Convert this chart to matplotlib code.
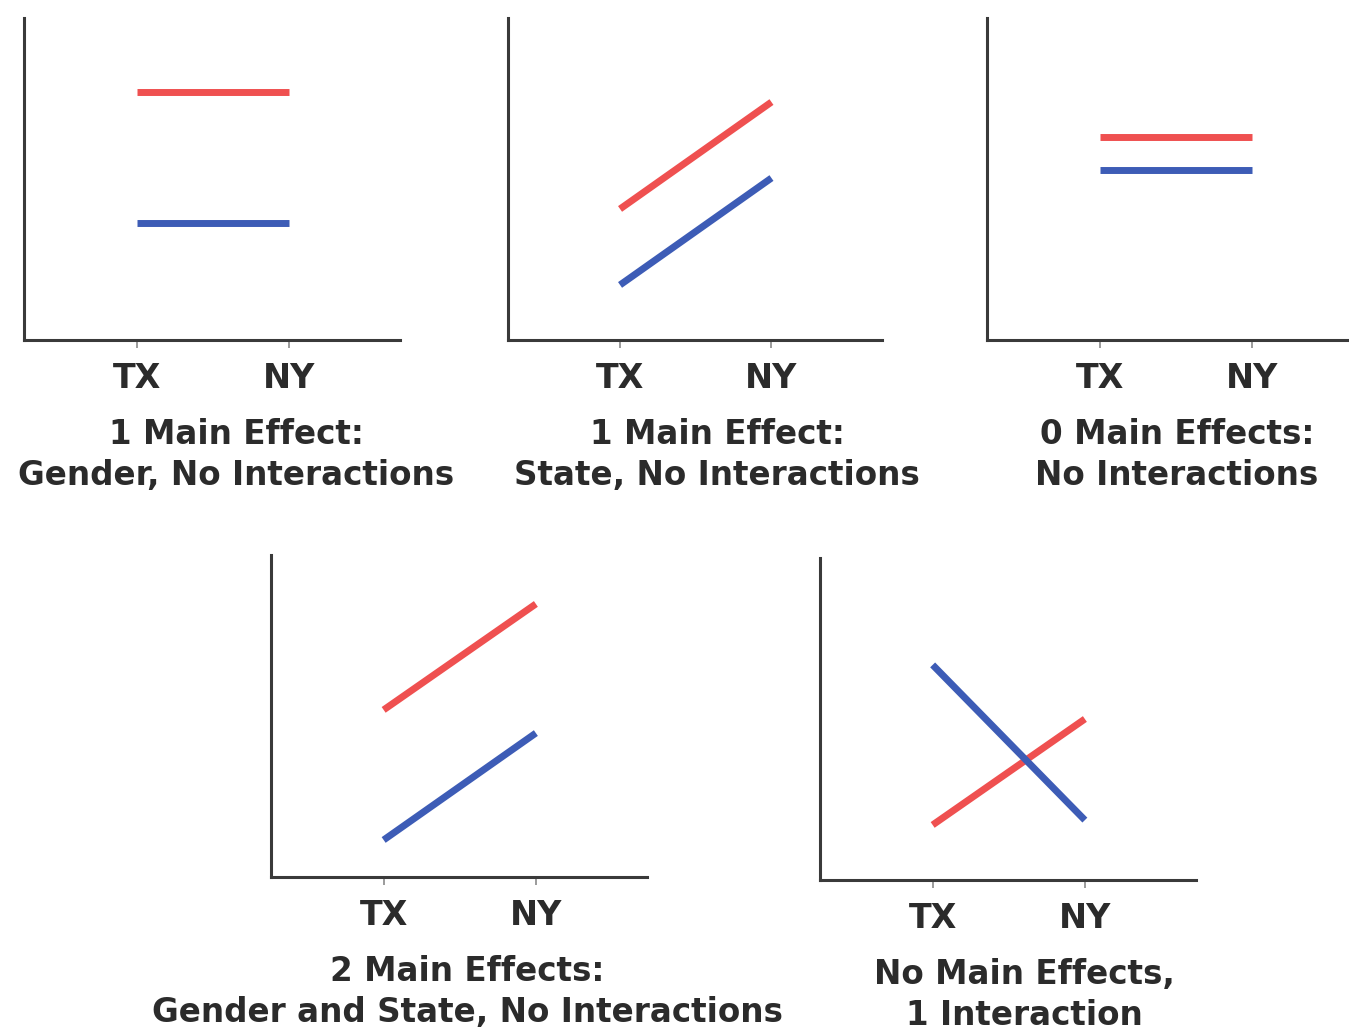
import matplotlib.pyplot as plt

W, H = 1349, 1030

states = ['TX', 'NY']

titles = [
    '1 Main Effect:\nGender, No Interactions',
    '1 Main Effect:\nState, No Interactions',
    '0 Main Effects:\nNo Interactions',
    '2 Main Effects:\nGender and State, No Interactions',
    'No Main Effects,\n1 Interaction',
]

# mean values (0-100 scale) at TX, NY
red_vals = [
    [77.0, 77.0],
    [40.7, 73.9],
    [63.0, 63.0],
    [51.9, 84.8],
    [17.1, 50.0],
]
blue_vals = [
    [36.3, 36.3],
    [17.1, 50.3],
    [52.8, 52.8],
    [11.5, 44.7],
    [66.8, 18.6],
]

# panel boxes in pixels: left, top, right, bottom, title centre x
boxes = [
    (24, 18, 400, 340, 236),
    (508, 18, 882, 340, 717),
    (987, 18, 1363, 340, 1177),
    (271, 555, 647, 877, 467),
    (820, 558, 1196, 880, 1024),
]

RED = '#ef5050'
BLUE = '#3d5cb6'
AXC = '#3a3a3a'
TXT = '#2b2b2b'

plt.rcParams['font.family'] = ['DejaVu Sans']

fig = plt.figure(figsize=(W / 100, H / 100), dpi=100)

for i, (l, t, r, b, tx) in enumerate(boxes):
    ax = fig.add_axes([l / W, 1 - b / H, (r - l) / W, (b - t) / H])
    ax.plot([0, 1], red_vals[i], color=RED, lw=5, solid_capstyle='butt')
    ax.plot([0, 1], blue_vals[i], color=BLUE, lw=5, solid_capstyle='butt')
    ax.set_xlim(-0.74, 1.73)
    ax.set_ylim(0, 100)
    for s in ['top', 'right']:
        ax.spines[s].set_visible(False)
    for s in ['left', 'bottom']:
        ax.spines[s].set_color(AXC)
        ax.spines[s].set_linewidth(2.2)
    ax.set_yticks([])
    ax.set_xticks([0, 1])
    ax.set_xticklabels(states, fontsize=24, fontweight='bold', color=TXT)
    ax.tick_params(axis='x', length=6, width=1.2, color='#8a8a8a', pad=10)
    fig.text(tx / W, 1 - (b + 115) / H, titles[i], ha='center', va='center',
             fontsize=23.5, fontweight='bold', color=TXT, linespacing=1.3)

fig.savefig('out.png', dpi=100)
